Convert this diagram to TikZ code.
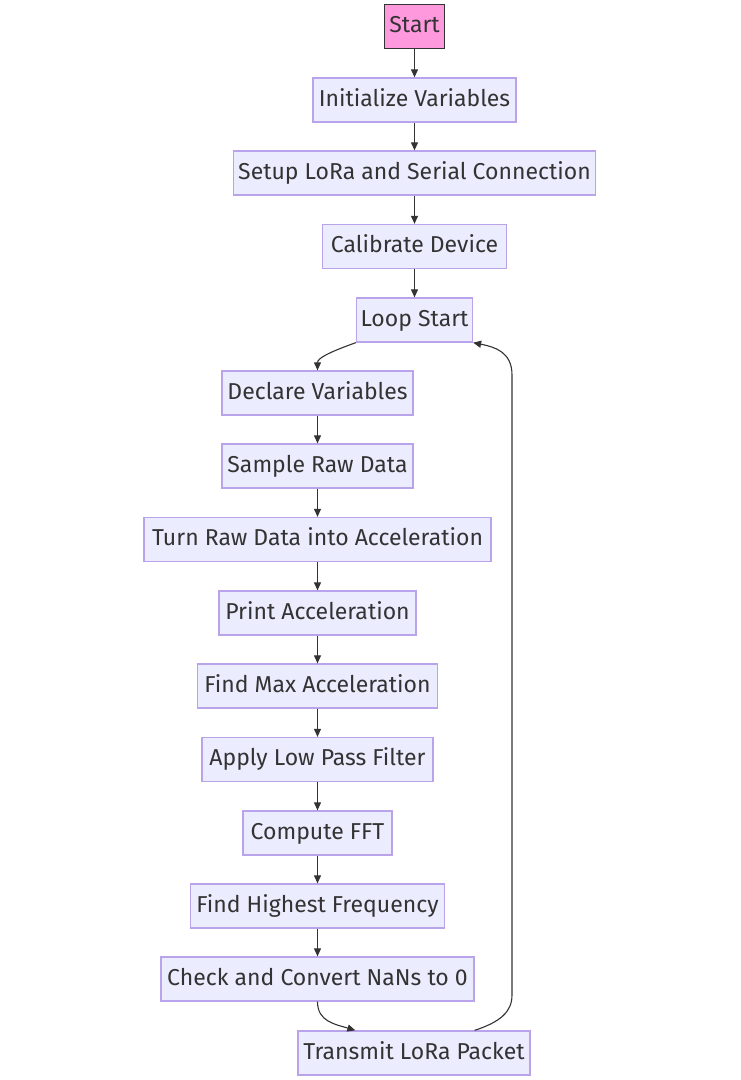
\documentclass[tikz,border=0pt]{standalone}
\usepackage{fontspec}
\setmainfont{Fira Sans}
\usetikzlibrary{arrows.meta,calc}
\definecolor{boxfill}{HTML}{ECECFF}
\definecolor{boxline}{HTML}{B9A3EB}
\definecolor{ink}{HTML}{333333}
\definecolor{pinkfill}{HTML}{FF99DD}
\tikzset{
  stepbox/.style={draw=boxline, fill=boxfill, line width=1.3pt, text=ink, inner sep=0pt,
     minimum height=44pt, text height=17pt, text depth=5pt, font=\fontsize{23}{26}\selectfont},
  startbox/.style={stepbox, draw=ink, fill=pinkfill, line width=1.1pt},
  conn/.style={draw=ink, line width=1.1pt, -{Triangle[length=8pt,width=7pt]}}
}
\begin{document}
\begin{tikzpicture}[x=1pt,y=-1pt]
\useasboundingbox[fill=white] (0,0) rectangle (741,1080);
\node[startbox, minimum width=60pt] (start) at (414.5,26.5) {Start};
\node[stepbox, minimum width=203pt] (init) at (414.5,100) {Initialize Variables};
\node[stepbox, minimum width=362pt] (setup) at (414.5,173) {Setup LoRa and Serial Connection};
\node[stepbox, minimum width=184pt] (calib) at (414.5,246.5) {Calibrate Device};
\node[stepbox, minimum width=116pt] (loop) at (414.5,320) {Loop Start};
\node[stepbox, minimum width=191pt] (declare) at (317.5,393) {Declare Variables};
\node[stepbox, minimum width=191pt] (sample) at (317.5,466) {Sample Raw Data};
\node[stepbox, minimum width=347pt] (turn) at (317.5,539.5) {Turn Raw Data into Acceleration};
\node[stepbox, minimum width=197pt] (print) at (317.5,613) {Print Acceleration};
\node[stepbox, minimum width=240pt] (findmax) at (317.5,686) {Find Max Acceleration};
\node[stepbox, minimum width=231pt] (lowpass) at (317.5,759.5) {Apply Low Pass Filter};
\node[stepbox, minimum width=149pt] (fft) at (317.5,833) {Compute FFT};
\node[stepbox, minimum width=254pt] (highest) at (317.5,906) {Find Highest Frequency};
\node[stepbox, minimum width=313pt] (check) at (317.5,979) {Check and Convert NaNs to 0};
\node[stepbox, minimum width=232pt] (transmit) at (414,1053) {Transmit LoRa Packet};

\draw[conn] (start) -- (init);
\draw[conn] (init) -- (setup);
\draw[conn] (setup) -- (calib);
\draw[conn] (calib) -- (loop);
\draw[conn] (loop.south west) .. controls +(-28,10) and +(0,-12) .. (declare.north);
\draw[conn] (declare) -- (sample);
\draw[conn] (sample) -- (turn);
\draw[conn] (turn) -- (print);
\draw[conn] (print) -- (findmax);
\draw[conn] (findmax) -- (lowpass);
\draw[conn] (lowpass) -- (fft);
\draw[conn] (fft) -- (highest);
\draw[conn] (highest) -- (check);
\coordinate (cstart) at (check.south);
\coordinate (tin) at ($(transmit.north west)+(58,0)$);
\draw[conn] (cstart) .. controls +(0,20) and +(-20,-6) .. (tin);
\coordinate (tout) at ($(transmit.north east)+(-56,0)$);
\coordinate (rt1) at (512,995);
\coordinate (rt2) at (512,375);
\draw[conn] (tout) .. controls (500,1022) and (512,1012) .. (rt1) -- (rt2) .. controls (512,352) and (495,347) .. (loop.south east);
\end{tikzpicture}
\end{document}
